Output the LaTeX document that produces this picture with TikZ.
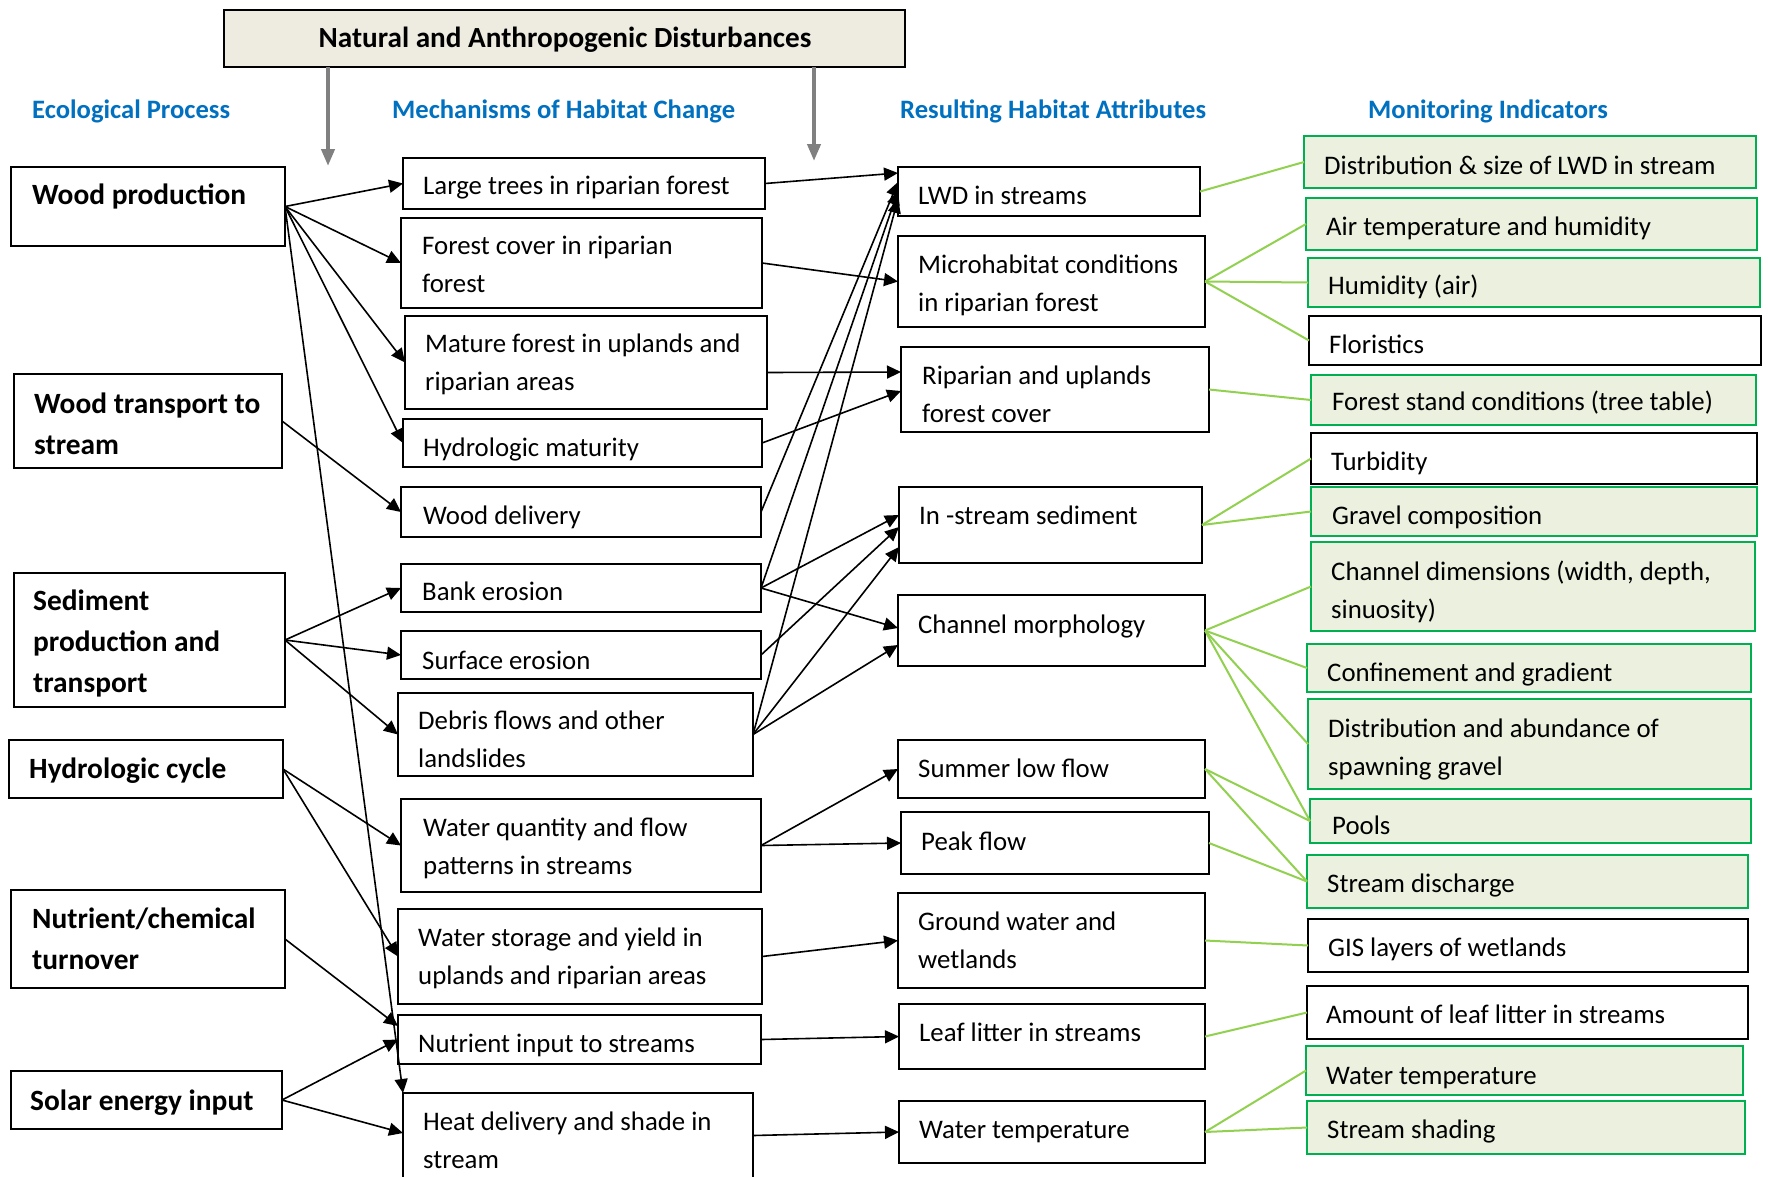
\documentclass[tikz,border=0pt]{standalone}
\usepackage{fontspec}
\setmainfont{Carlito}
\usetikzlibrary{arrows.meta,fit,calc}
\definecolor{hblue}{HTML}{0070C0}
\definecolor{gB}{HTML}{00B050}
\definecolor{gF}{HTML}{EBF1DE}
\definecolor{gL}{HTML}{92D050}
\definecolor{tanF}{HTML}{EEECE1}
\definecolor{grayA}{HTML}{808080}
\begin{document}
\begin{tikzpicture}[x=1pt,y=-1pt,
  pbox/.style={draw=black, line width=2pt, inner sep=0pt, outer sep=0pt, rectangle},
  gbox/.style={draw=gB, fill=gF, line width=2.5pt, inner sep=0pt, outer sep=0pt, rectangle},
  tbox/.style={draw=black, fill=tanF, line width=2pt, inner sep=0pt, outer sep=0pt, rectangle},
  txt/.style={inner sep=0pt, align=left, anchor=north west, font=\fontsize{26.8}{38}\selectfont},
  btxt/.style={inner sep=0pt, align=left, anchor=north west, font=\fontsize{29.4}{41}\selectfont\bfseries},
  htxt/.style={inner sep=0pt, anchor=west, font=\fontsize{26.6}{32}\selectfont\bfseries, text=hblue},
  arr/.style={-{Triangle[length=14pt,width=13pt]}, line width=1.6pt},
  garr/.style={-{Triangle[length=17pt,width=13pt]}, line width=4pt, draw=grayA, color=grayA},
  gl/.style={draw=gL, line width=2pt},
]
\useasboundingbox (0,0) rectangle (1768,1176);
\fill[white] (0,0) rectangle (1768,1176);

% Title
\node[tbox, fit={(224,10) (905,67)}] (title) {};
\node[inner sep=0pt, font=\fontsize{29.2}{34}\selectfont\bfseries] (titletxt) at (565,40) {Natural and Anthropogenic Disturbances};

% Headers
\node[htxt] (h1) at (32,111) {Ecological Process};
\node[htxt] (h2) at (392,111) {Mechanisms of Habitat Change};
\node[htxt] (h3) at (900,111) {Resulting Habitat Attributes};
\node[htxt] (h4) at (1368,111) {Monitoring Indicators};

% Gray arrows
\coordinate (ga1) at (328,166);
\coordinate (ga2) at (814,161);
\draw[garr] (title.south -| ga1) -- (ga1);
\draw[garr] (title.south -| ga2) -- (ga2);

% Column 1
\node[pbox, fit={(11,167) (285,246)}] (wp) {};
\node[pbox, fit={(14,374) (282,468)}] (wt) {};
\node[pbox, fit={(14,573) (285,707)}] (sp) {};
\node[pbox, fit={(9,740) (283,798)}] (hc) {};
\node[pbox, fit={(11,890) (285,988)}] (nc) {};
\node[pbox, fit={(11,1071) (282,1129)}] (se) {};
\node[btxt] (wpT) at (32,195-19) {\strut Wood production};
\node[btxt] (wtT) at (34,404-19) {\strut Wood transport to\\stream};
\node[btxt] (spT) at (33,601-19) {\strut Sediment\\production and\\transport};
\node[btxt] (hcT) at (29,769-19) {\strut Hydrologic cycle};
\node[btxt] (ncT) at (32,919-19) {\strut Nutrient/chemical\\turnover};
\node[btxt] (seT) at (30,1101-19) {\strut Solar energy input};

% Column 2
\node[pbox, fit={(403,158) (765,209)}] (lt) {};
\node[pbox, fit={(401,218) (762,308)}] (fc) {};
\node[pbox, fit={(405,316) (767,409)}] (mf) {};
\node[pbox, fit={(403,419) (762,467)}] (hm) {};
\node[pbox, fit={(401,487) (761,537)}] (wd) {};
\node[pbox, fit={(401,564) (761,612)}] (be) {};
\node[pbox, fit={(401,631) (761,679)}] (sf) {};
\node[pbox, fit={(398,693) (753,776)}] (df) {};
\node[pbox, fit={(401,799) (761,892)}] (wq) {};
\node[pbox, fit={(398,909) (762,1004)}] (ws) {};
\node[pbox, fit={(398,1015) (761,1064)}] (ni) {};
\node[pbox, fit={(403,1093) (753,1178)}] (hd) {};
\node[txt] (ltT) at (423,185-17) {\strut Large trees in riparian forest};
\node[txt] (fcT) at (422,245-17) {\strut Forest cover in riparian\\forest};
\node[txt] (mfT) at (425,343-17) {\strut Mature forest in uplands and\\riparian areas};
\node[txt] (hmT) at (423,447-17) {\strut Hydrologic maturity};
\node[txt] (wdT) at (423,515-17) {\strut Wood delivery};
\node[txt] (beT) at (422,591-17) {\strut Bank erosion};
\node[txt] (sfT) at (422,660-17) {\strut Surface erosion};
\node[txt] (dfT) at (418,720-17) {\strut Debris flows and other\\landslides};
\node[txt] (wqT) at (423,827-17) {\strut Water quantity and flow\\patterns in streams};
\node[txt] (wsT) at (418,937-17) {\strut Water storage and yield in\\uplands and riparian areas};
\node[txt] (niT) at (418,1043-17) {\strut Nutrient input to streams};
\node[txt] (hdT) at (423,1121-17) {\strut Heat delivery and shade in\\stream};

% Column 3
\node[pbox, fit={(898,167) (1200,216)}] (lwd) {};
\node[pbox, fit={(898,236) (1205,327)}] (mh) {};
\node[pbox, fit={(901,347) (1209,432)}] (ru) {};
\node[pbox, fit={(899,487) (1202,563)}] (is) {};
\node[pbox, fit={(898,595) (1205,666)}] (cm) {};
\node[pbox, fit={(898,740) (1205,798)}] (sl) {};
\node[pbox, fit={(901,812) (1209,874)}] (pf) {};
\node[pbox, fit={(898,893) (1205,988)}] (gw) {};
\node[pbox, fit={(899,1004) (1205,1069)}] (ll) {};
\node[pbox, fit={(899,1101) (1205,1163)}] (wtr) {};
\node[txt] (lwdT) at (918,195-17) {\strut LWD in streams};
\node[txt] (mhT) at (918,264-17) {\strut Microhabitat conditions\\in riparian forest};
\node[txt] (ruT) at (922,375-17) {\strut Riparian and uplands\\forest cover};
\node[txt] (isT) at (919,515-17) {\strut In -stream sediment};
\node[txt] (cmT) at (918,624-17) {\strut Channel morphology};
\node[txt] (slT) at (918,768-17) {\strut Summer low flow};
\node[txt] (pfT) at (921,841-17) {\strut Peak flow};
\node[txt] (gwT) at (918,921-17) {\strut Ground water and\\wetlands};
\node[txt] (llT) at (919,1032-17) {\strut Leaf litter in streams};
\node[txt] (wtrT) at (919,1129-17) {\strut Water temperature};

% Column 4
\node[gbox, fit={(1304,136) (1756,188)}] (i1) {};
\node[gbox, fit={(1306,198) (1757,250)}] (i2) {};
\node[gbox, fit={(1308,258) (1760,307)}] (i3) {};
\node[pbox, fit={(1309,316) (1761,365)}] (i4) {};
\node[gbox, fit={(1311,375) (1756,425)}] (i5) {};
\node[pbox, fit={(1311,433) (1757,484)}] (i6) {};
\node[gbox, fit={(1311,487) (1757,536)}] (i7) {};
\node[gbox, fit={(1311,542) (1755,631)}] (i8) {};
\node[gbox, fit={(1307,644) (1751,692)}] (i9) {};
\node[gbox, fit={(1308,699) (1751,789)}] (i10) {};
\node[gbox, fit={(1310,799) (1751,843)}] (i11) {};
\node[gbox, fit={(1307,855) (1748,908)}] (i12) {};
\node[pbox, fit={(1308,919) (1748,972)}] (i13) {};
\node[pbox, fit={(1307,986) (1748,1039)}] (i14) {};
\node[gbox, fit={(1306,1046) (1743,1095)}] (i15) {};
\node[gbox, fit={(1307,1101) (1745,1154)}] (i16) {};
\node[txt] (i1T) at (1324,165-17) {\strut Distribution \& size of LWD in stream};
\node[txt] (i2T) at (1326,226-17) {\strut Air temperature and humidity};
\node[txt] (i3T) at (1328,285-17) {\strut Humidity (air)};
\node[txt] (i4T) at (1329,344-17) {\strut Floristics};
\node[txt] (i5T) at (1332,401-17) {\strut Forest stand conditions (tree table)};
\node[txt] (i6T) at (1331,461-17) {\strut Turbidity};
\node[txt] (i7T) at (1332,515-17) {\strut Gravel composition};
\node[txt] (i8T) at (1331,571-17) {\strut Channel dimensions (width, depth,\\sinuosity)};
\node[txt] (i9T) at (1327,672-17) {\strut Confinement and gradient};
\node[txt] (i10T) at (1328,728-17) {\strut Distribution and abundance of\\spawning gravel};
\node[txt] (i11T) at (1332,825-17) {\strut Pools};
\node[txt] (i12T) at (1327,883-17) {\strut Stream discharge};
\node[txt] (i13T) at (1328,947-17) {\strut GIS layers of wetlands};
\node[txt] (i14T) at (1326,1014-17) {\strut Amount of leaf litter in streams};
\node[txt] (i15T) at (1326,1075-17) {\strut Water temperature};
\node[txt] (i16T) at (1327,1129-17) {\strut Stream shading};

% Column 1 -> Column 2
\draw[arr] (wp.east) -- (lt.west);
\draw[arr] (wp.east) -- (fc.west);
\draw[arr] (wp.east) -- (mf.west);
\draw[arr] (wp.east) -- (hm.west);
\draw[arr] (wp.east) -- (hd.north west);
\draw[arr] (wt.east) -- (wd.west);
\draw[arr] (sp.east) -- (be.west);
\draw[arr] (sp.east) -- (sf.west);
\draw[arr] (sp.east) -- (df.west);
\draw[arr] (hc.east) -- (wq.west);
\draw[arr] (hc.east) -- (ws.west);
\draw[arr] (nc.east) -- ($(ni.north west)+(0,11)$);
\draw[arr] (se.east) -- (ni.west);
\draw[arr] (se.east) -- ($(hd.north west)+(0,40)$);

% Column 2 -> Column 3
\draw[arr] (lt.east) -- ($(lwd.north west)+(0,6)$);
\draw[arr] (wd.east) -- ($(lwd.north west)+(0,15)$);
\draw[arr] (be.east) -- ($(lwd.north west)+(0,24)$);
\draw[arr] (df.east) -- ($(lwd.north west)+(0,32)$);
\draw[arr] (fc.east) -- (mh.west);
\draw[arr] ($(mf.east)+(0,10)$) -- ($(ru.north west)+(0,25)$);
\draw[arr] (hm.east) -- ($(ru.north west)+(0,44)$);
\draw[arr] (be.east) -- ($(is.north west)+(0,28)$);
\draw[arr] (sf.east) -- ($(is.north west)+(0,40)$);
\draw[arr] (df.east) -- ($(is.north west)+(0,60)$);
\draw[arr] (be.east) -- ($(cm.north west)+(0,33)$);
\draw[arr] (df.east) -- ($(cm.north west)+(0,50)$);
\draw[arr] (wq.east) -- (sl.west);
\draw[arr] (wq.east) -- (pf.west);
\draw[arr] (ws.east) -- (gw.west);
\draw[arr] (ni.east) -- (ll.west);
\draw[arr] (hd.east) -- (wtr.west);

% Column 3 -> Column 4 (green)
\draw[gl] (lwd.east) -- (i1.west);
\draw[gl] (mh.east) -- (i2.west);
\draw[gl] (mh.east) -- (i3.west);
\draw[gl] (mh.east) -- (i4.west);
\draw[gl] (ru.east) -- (i5.west);
\draw[gl] (is.east) -- (i6.west);
\draw[gl] (is.east) -- (i7.west);
\draw[gl] (cm.east) -- (i8.west);
\draw[gl] (cm.east) -- (i9.west);
\draw[gl] (cm.east) -- (i10.west);
\draw[gl] (cm.east) -- (i11.west);
\draw[gl] (sl.east) -- (i11.west);
\draw[gl] (sl.east) -- (i12.west);
\draw[gl] (pf.east) -- (i12.west);
\draw[gl] (gw.east) -- (i13.west);
\draw[gl] (ll.east) -- (i14.west);
\draw[gl] (wtr.east) -- (i15.west);
\draw[gl] (wtr.east) -- (i16.west);
\end{tikzpicture}
\end{document}
